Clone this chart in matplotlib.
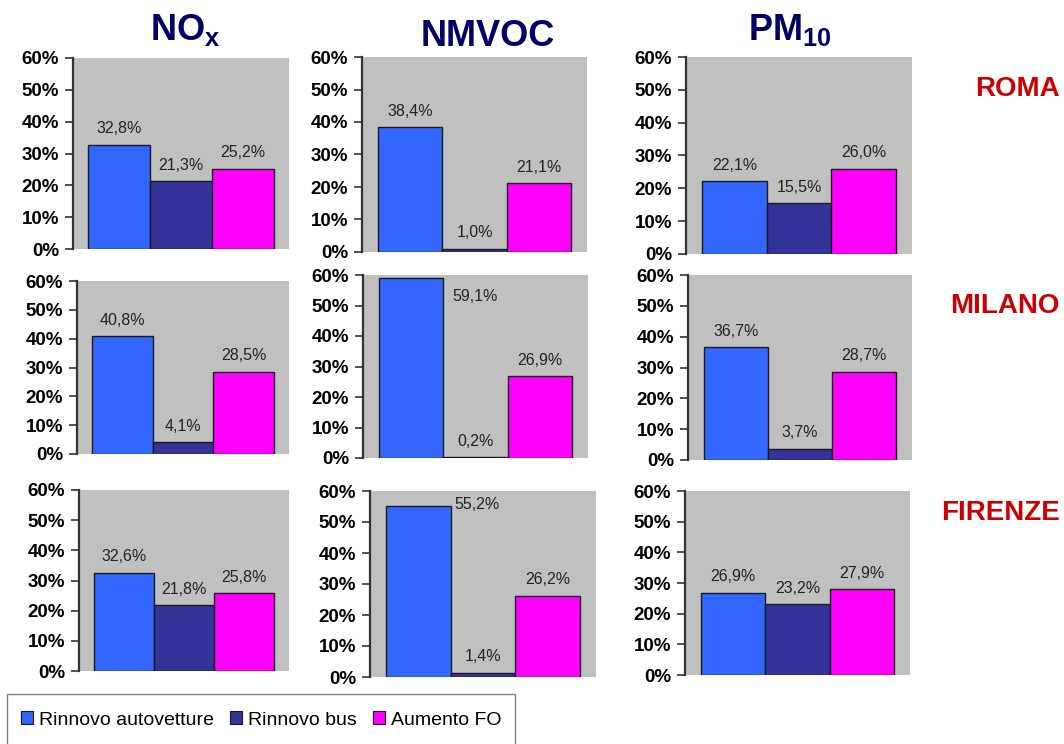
import matplotlib
matplotlib.use("Agg")
import matplotlib.pyplot as plt
from matplotlib.patches import Patch, Rectangle

plt.rcParams['font.family'] = ['Liberation Sans', 'DejaVu Sans']

# scenarios (bars) and their colours
scenari = ["Rinnovo autovetture", "Rinnovo bus", "Aumento FO"]
colori = ["#3366FF", "#333399", "#FF00FF"]

inquinanti = ["NO$_\\mathregular{x}$", "NMVOC", "PM$_\\mathregular{10}$"]
citta = ["ROMA", "MILANO", "FIRENZE"]

# % reduction per city, one list per pollutant (NOx, NMVOC, PM10)
roma = [[32.8, 21.3, 25.2], [38.4, 1.0, 21.1], [22.1, 15.5, 26.0]]
milano = [[40.8, 4.1, 28.5], [59.1, 0.2, 26.9], [36.7, 3.7, 28.7]]
firenze = [[32.6, 21.8, 25.8], [55.2, 1.4, 26.2], [26.9, 23.2, 27.9]]
valori = [roma, milano, firenze]

yticks = [0, 10, 20, 30, 40, 50, 60]

# panel boxes in pixels: left, right, top, bottom (figure is 1064x744)
W, H = 1064, 744
boxes = [
    [(73, 289, 58, 249), (362, 587, 57, 252), (686, 912, 57, 254)],
    [(77, 289, 281, 454), (363, 588, 275, 458), (688, 912, 275, 460)],
    [(79, 289, 490, 671), (370, 596, 491, 677), (685, 910, 491, 675)],
]
# labels that do not fit above the bar: (row, col, bar) -> (x, y)
spostati = {(1, 1, 0): (1.0, 53.0), (2, 1, 0): (0.9, 55.5)}

fig = plt.figure(figsize=(W / 100, H / 100), dpi=100)

for r in range(3):
    for c in range(3):
        l, rr, t, b = boxes[r][c]
        ax = fig.add_axes([l / W, 1 - b / H, (rr - l) / W, (b - t) / H])
        ax.set_facecolor("#C0C0C0")
        vals = valori[r][c]
        x = range(len(vals))
        ax.bar(x, vals, width=1.0, color=colori, edgecolor="#1a1a1a", linewidth=1.0, zorder=2)
        for i, v in enumerate(vals):
            lab = f"{v:.1f}%".replace(".", ",")
            if (r, c, i) in spostati:
                px, py = spostati[(r, c, i)]
                ax.text(px, py, lab, ha="center", va="center", fontsize=11.5, color="#222222")
            else:
                ax.annotate(lab, (i, v), xytext=(0, 6), textcoords="offset points",
                            ha="center", va="bottom", fontsize=11.5, color="#222222")
        ax.set_xlim(-0.75, 2.75)
        ax.set_ylim(0, 60)
        ax.set_yticks(yticks)
        ax.set_yticklabels([f"{v}%" for v in yticks], fontsize=13.5, fontweight="bold")
        ax.set_xticks([])
        for s in ["top", "right", "bottom"]:
            ax.spines[s].set_visible(False)
        ax.spines["left"].set_color("#333333")
        ax.spines["left"].set_linewidth(1.6)
        ax.tick_params(axis="y", length=6, width=1.2, color="#333333", pad=4)

# pollutant headers
for c, (txt, xc, yc) in enumerate(zip(inquinanti, [185, 488, 790], [30, 36, 30])):
    fig.text(xc / W, 1 - yc / H, txt, ha="center", va="center", fontsize=26,
             fontweight="bold", color="#000066")

# city names on the right
for txt, yc in zip(citta, [89, 306, 513]):
    fig.text(1060 / W, 1 - yc / H, txt, ha="right", va="center", fontsize=20,
             fontweight="bold", color="#CC0000")

# legend box, cut by the bottom edge
fig.patches.append(Rectangle((7 / W, -0.02), (515 - 7) / W, (744 - 694) / H + 0.02,
                             transform=fig.transFigure, facecolor="white",
                             edgecolor="#808080", linewidth=1.0))
handles = [Patch(facecolor=col, edgecolor="#1a1a1a", linewidth=0.8) for col in colori]
fig.legend(handles, scenari, loc="center left", bbox_to_anchor=(13 / W, 1 - 720 / H),
           ncol=3, frameon=False, fontsize=14, handlelength=0.65, handleheight=0.65,
           handletextpad=0.3, columnspacing=0.8, borderaxespad=0)

fig.savefig("out.png", dpi=100)
